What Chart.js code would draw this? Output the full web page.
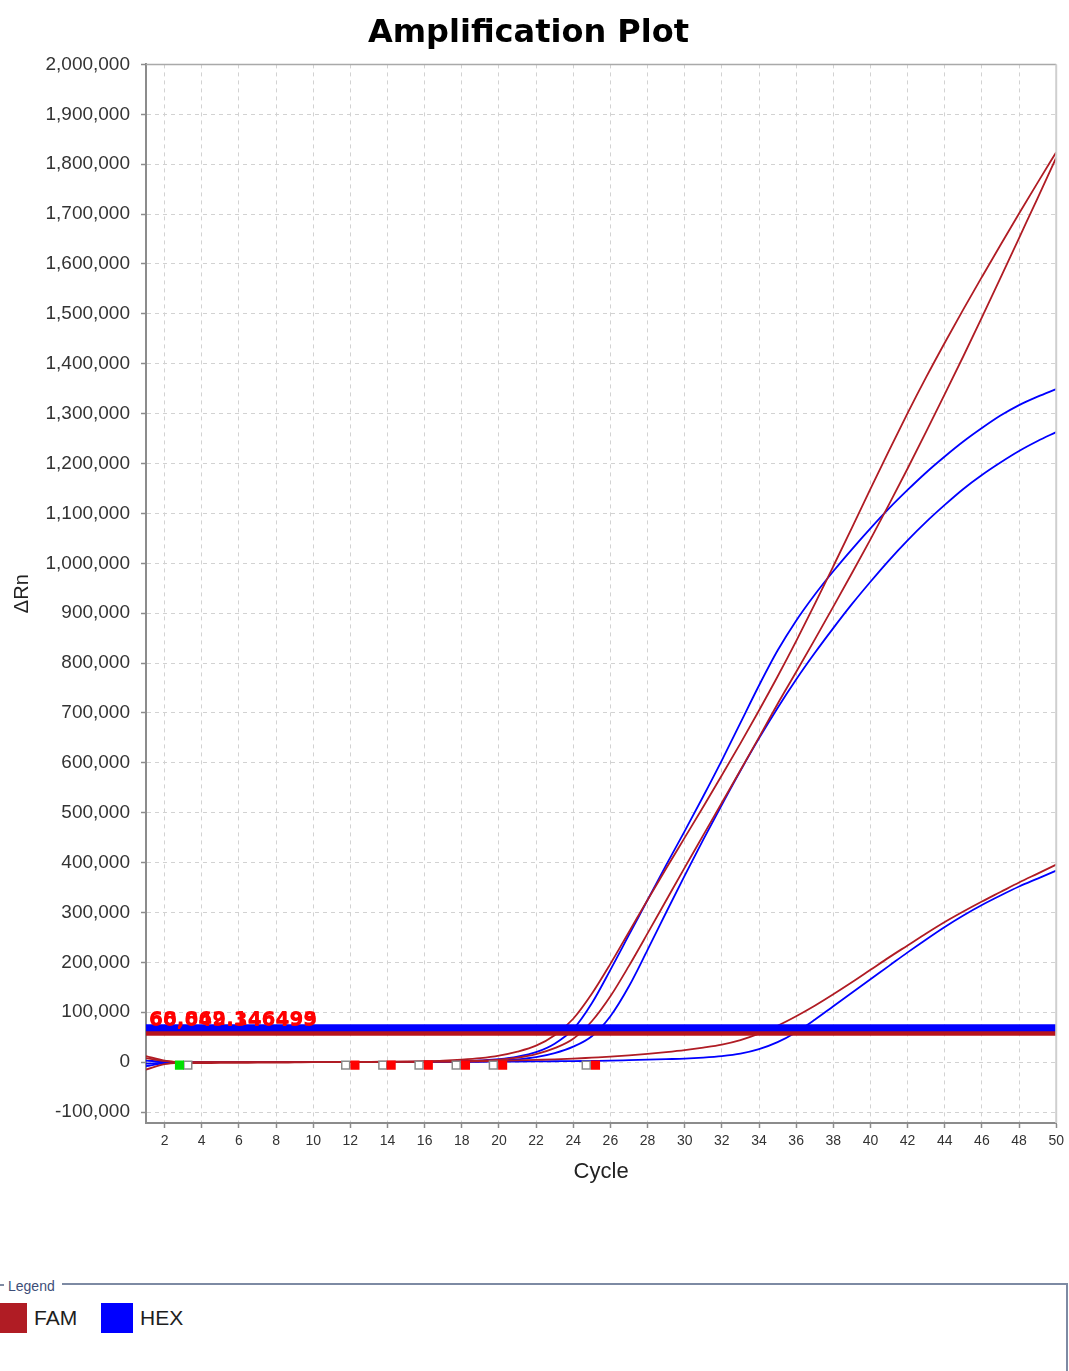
<!DOCTYPE html>
<html>
<head>
<meta charset="utf-8">
<title>Amplification Plot</title>
<script src="https://cdn.jsdelivr.net/npm/chart.js@4.4.0/dist/chart.umd.min.js"></script>
<style>
  html, body { margin: 0; padding: 0; background: #ffffff; }
  #wrap { position: relative; width: 1069px; height: 1371px; overflow: hidden; font-family: "Liberation Sans", Arial, sans-serif; }
  #plot { position: absolute; left: 0; top: 0; }
  #legend { position: absolute; left: 0; top: 1276px; width: 1069px; height: 95px; }
  #legend .dash { position: absolute; left: 0; top: 8px; width: 4px; height: 2px; background: #7d8aa3; }
  #legend .caption { position: absolute; left: 8px; top: 1px; font-size: 14px; line-height: 18px; color: #3d4e78; }
  #legend .rule { position: absolute; left: 62px; top: 7px; width: 1006px; height: 2px; background: #7d8aa3; }
  #legend .side { position: absolute; left: 1066px; top: 7px; width: 2px; height: 95px; background: #7d8aa3; }
  #legend .item { position: absolute; top: 27px; height: 30px; display: flex; align-items: center; }
  #legend .swatch { display: inline-block; width: 32px; height: 30px; }
  #legend .label { margin-left: 7px; font-size: 21px; color: #1e1e1e; }
</style>
</head>
<body>
<div id="wrap">
  <canvas id="plot" width="1069" height="1200"></canvas>
  <div id="legend">
    <div class="dash"></div>
    <div class="caption">Legend</div>
    <div class="rule"></div>
    <div class="side"></div>
  </div>
</div>
<script>
// Cycle numbers and the delta-Rn readings for each well
const cycles = [1, 2, 3, 4, 5, 6, 7, 8, 9, 10, 11, 12, 13, 14, 15, 16, 17, 18, 19, 20,
  21, 22, 23, 24, 25, 26, 27, 28, 29, 30, 31, 32, 33, 34, 35, 36, 37, 38, 39, 40,
  41, 42, 43, 44, 45, 46, 47, 48, 49, 50];

const famWell1 = [12000, 3000, -1000, -2000, -1500, -1500, -1000, -1000, -500, 0,
  0, 500, 500, 1000, 1500, 2000, 3000, 5000, 8000, 13000,
  21000, 33000, 54000, 87000, 137000, 197000, 261000, 325000, 388000, 450000,
  512000, 575000, 639000, 705000, 773000, 844000, 918000, 994000, 1071000, 1149000,
  1226000, 1301000, 1373000, 1442000, 1509000, 1574000, 1638000, 1701000, 1763000, 1824000];

const famWell2 = [-15000, -4000, -1000, 0, 0, 0, 0, 0, 0, 0,
  0, 0, 200, 400, 600, 800, 1000, 1500, 3000, 5000,
  9000, 16000, 28000, 47000, 82000, 132000, 193000, 258000, 324000, 390000,
  455000, 520000, 585000, 651000, 718000, 782000, 847000, 913000, 980000, 1048000,
  1118000, 1190000, 1264000, 1339000, 1415000, 1493000, 1572000, 1652000, 1732000, 1813000];

const famWell3 = [8000, 2000, 0, 0, 0, 0, 0, 0, 0, 0,
  200, 400, 500, 600, 700, 800, 1000, 1200, 1500, 2500,
  3500, 4500, 5500, 7000, 9000, 11000, 13500, 16500, 20000, 24000,
  29000, 35000, 44000, 57000, 73000, 92000, 113000, 136000, 160000, 185000,
  210000, 234000, 258000, 281000, 302000, 322000, 341000, 360000, 378000, 396000];

const hexWell1 = [-3000, -1000, 0, 0, 0, 0, 0, 0, 0, 0,
  0, 0, 200, 300, 500, 800, 1200, 2000, 3500, 6000,
  11000, 20000, 37000, 66000, 118000, 185000, 255000, 325000, 395000, 463000,
  533000, 605000, 680000, 755000, 825000, 885000, 937000, 984000, 1028000, 1070000,
  1110000, 1147000, 1182000, 1214000, 1244000, 1271000, 1296000, 1317000, 1334000, 1349000];

const hexWell2 = [-8000, -2000, 0, 0, 0, 0, 0, 0, 0, 0,
  0, 0, 0, 200, 400, 600, 800, 1000, 1500, 3000,
  5500, 10000, 18000, 31000, 52000, 92000, 152000, 225000, 300000, 374000,
  446000, 516000, 584000, 649000, 710000, 767000, 820000, 870000, 918000, 963000,
  1006000, 1046000, 1083000, 1117000, 1149000, 1177000, 1202000, 1225000, 1245000, 1263000];

const hexWell3 = [3000, 1000, 0, 0, 0, 0, 0, 0, 0, 0,
  0, 0, 0, 0, 0, 200, 400, 600, 800, 1000,
  1200, 1500, 1800, 2000, 2500, 3000, 4000, 5000, 6000, 7000,
  9000, 12000, 17000, 26000, 40000, 60000, 85000, 112000, 139000, 166000,
  193000, 220000, 246000, 271000, 294000, 315000, 334000, 352000, 368000, 384000];

// Thresholds per dye
const famThreshold = 60049.346499;
const hexThreshold = 68862.146493;
const famThresholdLabel = "60,049.346499";
const hexThresholdLabel = "68,862.146493";

// Baseline start / end markers (cycle positions) sitting just under zero
const markerLevel = -6000;
const baselineStartCycles = [2.8];
const baselineEndCycles = [12.25, 14.2, 16.2, 18.2, 20.2, 25.2];
const baselineOpenCycles = [3.25, 11.75, 13.75, 15.7, 17.7, 19.7, 24.7];

// Axis ticks
const xTickValues = [2, 4, 6, 8, 10, 12, 14, 16, 18, 20, 22, 24, 26, 28, 30, 32, 34, 36, 38, 40, 42, 44, 46, 48, 50];
const yTickValues = [-100000, 0, 100000, 200000, 300000, 400000, 500000, 600000, 700000, 800000, 900000,
  1000000, 1100000, 1200000, 1300000, 1400000, 1500000, 1600000, 1700000, 1800000, 1900000, 2000000];

// Dyes shown in the legend
const dyeNames = ["FAM", "HEX"];
const dyeColors = ["#b01c24", "#0000ff"];

const FONT = "'Liberation Sans', Arial, sans-serif";

function series(values) {
  return cycles.map((c, i) => ({ x: c, y: values[i] }));
}
function markers(list) {
  return list.map(c => ({ x: c, y: markerLevel }));
}
function curve(label, values, color) {
  return {
    label, data: series(values), borderColor: color, backgroundColor: color,
    borderWidth: 1.8, pointRadius: 0, fill: false, cubicInterpolationMode: "monotone", order: 10
  };
}
function thresholdLine(label, value, color, width, order) {
  return {
    label, data: [{ x: cycles[0], y: value }, { x: cycles[cycles.length - 1], y: value }],
    borderColor: color, borderWidth: width, pointRadius: 0, fill: false, order, clip: false
  };
}

const datasets = [
  curve("FAM 1", famWell1, dyeColors[0]),
  curve("FAM 2", famWell2, dyeColors[0]),
  curve("FAM 3", famWell3, dyeColors[0]),
  curve("HEX 1", hexWell1, dyeColors[1]),
  curve("HEX 2", hexWell2, dyeColors[1]),
  curve("HEX 3", hexWell3, dyeColors[1]),
  thresholdLine("FAM threshold", famThreshold, "#b8141c", 7, 4),
  thresholdLine("HEX threshold", hexThreshold, "#0000ff", 7, 3),
  {
    label: "baseline open", type: "scatter", data: markers(baselineOpenCycles),
    pointStyle: "rect", pointRadius: 5.6, borderColor: "#8a8a8a", borderWidth: 1.5,
    backgroundColor: "#ffffff", order: 2
  },
  {
    label: "baseline start", type: "scatter", data: markers(baselineStartCycles),
    pointStyle: "rect", pointRadius: 6.4, borderWidth: 0, backgroundColor: "#00e000", order: 1
  },
  {
    label: "baseline end", type: "scatter", data: markers(baselineEndCycles),
    pointStyle: "rect", pointRadius: 6.4, borderWidth: 0, backgroundColor: "#ff0000", order: 1
  }
];

const overlay = {
  id: "overlay",
  afterDraw(chart) {
    const { ctx, chartArea: a, scales: { y } } = chart;
    ctx.save();
    // frame: top and right edges of the plot
    ctx.strokeStyle = "#a9a9a9";
    ctx.lineWidth = 1.5;
    ctx.beginPath();
    ctx.moveTo(a.left, a.top);
    ctx.lineTo(a.right, a.top);
    ctx.stroke();
    ctx.strokeStyle = "#cfcfcf";
    ctx.lineWidth = 2;
    ctx.beginPath();
    ctx.moveTo(a.right, a.top);
    ctx.lineTo(a.right, a.bottom);
    ctx.stroke();

    // threshold value labels
    ctx.font = "bold 20px 'DejaVu Sans'";
    ctx.fillStyle = "#ff0000";
    ctx.textAlign = "left";
    ctx.textBaseline = "alphabetic";
    ctx.fillText(hexThresholdLabel, a.left + 3, y.getPixelForValue(famThreshold) - 7);
    ctx.fillText(famThresholdLabel, a.left + 3, y.getPixelForValue(famThreshold) - 6);

    // axis titles
    ctx.fillStyle = "#222222";
    ctx.textAlign = "center";
    ctx.textBaseline = "middle";
    ctx.font = "22px " + FONT;
    ctx.fillText("Cycle", (a.left + a.right) / 2, 1172);
    ctx.translate(22, (a.top + a.bottom) / 2);
    ctx.rotate(-Math.PI / 2);
    ctx.font = "20px " + FONT;
    ctx.fillText("\u0394Rn", 0, 0);
    ctx.restore();
  }
};

new Chart(document.getElementById("plot"), {
  type: "line",
  data: { datasets },
  options: {
    responsive: false,
    animation: false,
    layout: { padding: { left: 0, right: 12, top: 0, bottom: 7 } },
    plugins: {
      legend: { display: false },
      tooltip: { enabled: false },
      title: {
        display: true, text: "Amplification Plot", color: "#000000",
        font: { family: "'DejaVu Sans'", size: 32, weight: "bold" },
        padding: { top: 14, bottom: 12 }
      }
    },
    scales: {
      x: {
        type: "linear", min: 1, max: 50,
        afterBuildTicks: s => { s.ticks = xTickValues.map(v => ({ value: v })); },
        afterFit: s => { s.height = 70; },
        ticks: { autoSkip: false, maxRotation: 0, padding: 5, color: "#333333", font: { family: FONT, size: 14 } },
        grid: { color: "#d2d2d2", lineWidth: 1, tickLength: 5, tickColor: "#8c8c8c", tickWidth: 1.5 },
        border: { display: true, color: "#8c8c8c", width: 2, dash: [4, 4] }
      },
      y: {
        type: "linear", min: -122000, max: 2000000,
        afterBuildTicks: s => { s.ticks = yTickValues.map(v => ({ value: v })); },
        afterFit: s => { s.width = 146; },
        ticks: {
          padding: 11, color: "#333333", font: { family: FONT, size: 19 },
          callback: v => Number(v).toLocaleString("en-US")
        },
        grid: { color: "#d2d2d2", lineWidth: 1, tickLength: 5, tickColor: "#8c8c8c", tickWidth: 1.5 },
        border: { display: true, color: "#8c8c8c", width: 2, dash: [4, 4] }
      }
    }
  },
  plugins: [overlay]
});

// legend entries
const legend = document.getElementById("legend");
const legendLeft = [-5, 101];
dyeNames.forEach((name, i) => {
  const item = document.createElement("div");
  item.className = "item";
  item.style.left = legendLeft[i] + "px";
  const sw = document.createElement("span");
  sw.className = "swatch";
  sw.style.background = dyeColors[i];
  const lb = document.createElement("span");
  lb.className = "label";
  lb.textContent = name;
  item.appendChild(sw);
  item.appendChild(lb);
  legend.appendChild(item);
});
</script>
</body>
</html>
